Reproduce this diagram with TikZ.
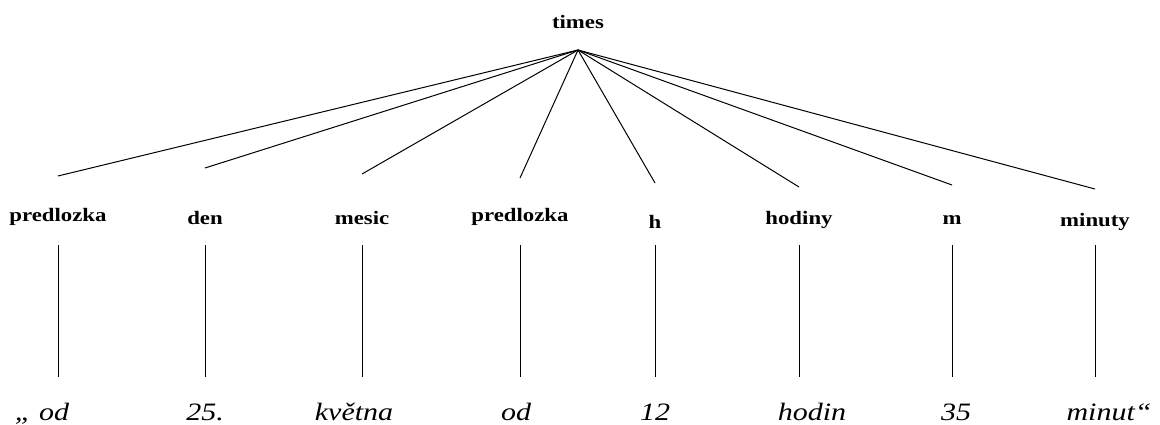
\documentclass[tikz,border=0pt]{standalone}
\usepackage{fontspec}
\setmainfont{Liberation Serif}
\newfontfamily\labfont[FakeStretch=1.2]{Liberation Serif Bold}
\newfontfamily\wordfont[FakeStretch=1.2]{Liberation Serif Italic}
\begin{document}
\begin{tikzpicture}[x=1pt,y=-1pt,
  root/.style={anchor=south,inner sep=0pt,outer sep=0pt,text depth=21pt,font=\fontsize{19}{19}\labfont},
  lab/.style={anchor=south,inner sep=0pt,outer sep=0pt,font=\fontsize{19}{19}\labfont},
  word/.style={anchor=north,inner sep=0pt,outer sep=0pt,text height=43pt,text depth=3pt,font=\fontsize{25}{25}\wordfont},
  edge/.style={draw=black,line width=1pt}]
\useasboundingbox (0,0) rectangle (1160,425);
\node[root] (times) at (578,50) {times};
% labels (south at y=245)
\node[lab,text depth=23pt,text height=46pt] (l1) at (58,245) {predlozka};
\node[lab,text depth=20pt,text height=57pt] (l2) at (205,245) {den};
\node[lab,text depth=21pt,text height=50pt] (l3) at (362,245) {mesic};
\node[lab,text depth=23pt,text height=44pt] (l4) at (520,245) {predlozka};
\node[lab,text depth=17pt,text height=45pt] (l5) at (655,245) {h};
\node[lab,text depth=20pt,text height=38pt] (l6) at (799,245) {hodiny};
\node[lab,text depth=21pt,text height=39pt] (l7) at (952,245) {m};
\node[lab,text depth=19pt,text height=37pt] (l8) at (1095,245) {minuty};
% words (north at y=377)
\node[word] (w1) at (42,377) {„ od};
\node[word] (w2) at (205,377) {25.};
\node[word] (w3) at (354,377) {května};
\node[word] (w4) at (516,377) {od};
\node[word] (w5) at (655,377) {12};
\node[word] (w6) at (812,377) {hodin};
\node[word] (w7) at (956,377) {35};
\node[word] (w8) at (1109,377) {minut“};
% connectors
\foreach \i in {1,...,8} {
  \draw[edge] (times.south) -- (l\i.north);
  \draw[edge] (l\i.south) -- (l\i.south |- w\i.north);
}
\end{tikzpicture}
\end{document}
